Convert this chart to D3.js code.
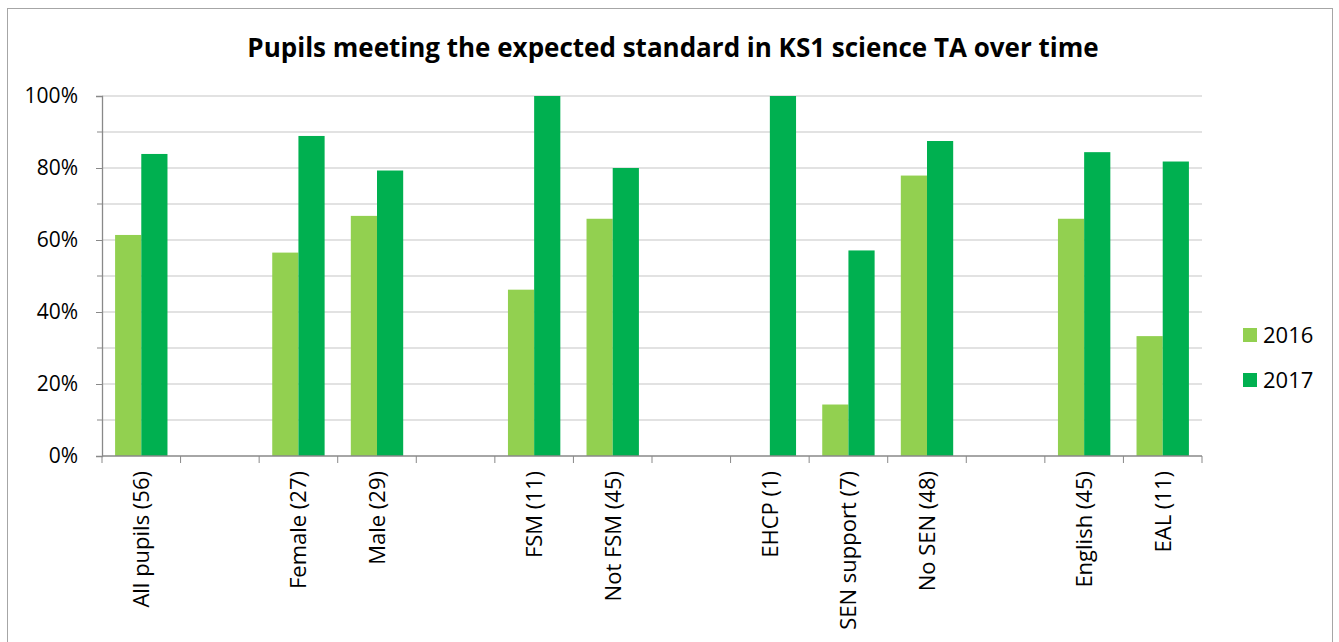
<!DOCTYPE html>
<html>
<head>
<meta charset="utf-8">
<script src="https://cdn.jsdelivr.net/npm/d3@7"></script>
<style>
  body { margin: 0; background: #fff; }
  svg { display: block; font-family: "Open Sans", "Noto Sans", sans-serif; }
</style>
</head>
<body>
<svg width="1339" height="642"></svg>
<script>
const categories = ["All pupils (56)", "", "Female (27)", "Male (29)", "", "FSM (11)", "Not FSM (45)", "",
  "EHCP (1)", "SEN support (7)", "No SEN (48)", "", "English (45)", "EAL (11)"];
const series = ["2016", "2017"];
const values2016 = [0.614, null, 0.565, 0.667, null, 0.462, 0.659, null, null, 0.143, 0.779, null, 0.659, 0.333];
const values2017 = [0.839, null, 0.889, 0.793, null, 1.0, 0.80, null, 1.0, 0.571, 0.875, null, 0.844, 0.818];
const yTicks = [0, 0.2, 0.4, 0.6, 0.8, 1.0];
const yMinor = [0.1, 0.3, 0.5, 0.7, 0.9];

const colors = {"2016": "#92d050", "2017": "#00b050"};
const axisColor = "#898989";
const gridColor = "#d9d9d9";

const svg = d3.select("svg");

// chart frame
svg.append("rect")
  .attr("x", 7.5).attr("y", 8.5)
  .attr("width", 1325).attr("height", 700)
  .attr("fill", "none")
  .attr("stroke", "#a6a6a6");

svg.append("text")
  .attr("x", 673).attr("y", 57)
  .attr("text-anchor", "middle")
  .attr("font-size", 26)
  .attr("font-weight", "bold")
  .attr("fill", "#000")
  .text("Pupils meeting the expected standard in KS1 science TA over time");

const x = d3.scaleBand()
  .domain(d3.range(categories.length))
  .range([102, 1202]);

const xSeries = d3.scaleBand()
  .domain(series)
  .range([0, x.bandwidth()])
  .paddingOuter(0.5);

const y = d3.scaleLinear()
  .domain([0, 1])
  .range([456, 96]);

// gridlines (major + minor)
svg.append("g")
  .selectAll("line")
  .data(yTicks.concat(yMinor).filter(d => d > 0))
  .join("line")
  .attr("x1", 102).attr("x2", 1202)
  .attr("y1", d => y(d)).attr("y2", d => y(d))
  .attr("stroke", gridColor)
  .attr("stroke-width", 1.3);

// bars
const rows = categories.map((c, i) => ({i, "2016": values2016[i], "2017": values2017[i]}));
const groups = svg.append("g")
  .selectAll("g")
  .data(rows)
  .join("g")
  .attr("transform", d => `translate(${x(d.i)},0)`);

groups.selectAll("rect")
  .data(d => series.filter(s => d[s] != null).map(s => ({s, v: d[s]})))
  .join("rect")
  .attr("x", d => xSeries(d.s))
  .attr("width", xSeries.bandwidth())
  .attr("y", d => y(d.v))
  .attr("height", d => y(0) - y(d.v))
  .attr("fill", d => colors[d.s]);

// y axis
const yAxis = svg.append("g")
  .attr("transform", "translate(102,0)")
  .call(d3.axisLeft(y).tickValues(yTicks).tickSize(6).tickPadding(18)
    .tickFormat(d3.format(".0%")));
yAxis.selectAll(".tick line").attr("stroke", axisColor);
yAxis.select(".domain").attr("stroke", axisColor).attr("stroke-width", 1.3);
yAxis.selectAll(".tick text")
  .attr("font-size", 21)
  .attr("fill", "#000")
  .attr("font-family", "\"Open Sans\", sans-serif");

svg.append("g")
  .selectAll("line")
  .data(yMinor)
  .join("line")
  .attr("x1", 97).attr("x2", 102)
  .attr("y1", d => y(d)).attr("y2", d => y(d))
  .attr("stroke", axisColor);

// x axis
const xg = svg.append("g");
xg.append("line")
  .attr("x1", 102).attr("x2", 1202)
  .attr("y1", y(0)).attr("y2", y(0))
  .attr("stroke", axisColor)
  .attr("stroke-width", 1.3);

xg.selectAll("line.tick")
  .data(d3.range(categories.length + 1))
  .join("line")
  .attr("class", "tick")
  .attr("x1", d => 102 + d * x.step()).attr("x2", d => 102 + d * x.step())
  .attr("y1", y(0)).attr("y2", y(0) + 7)
  .attr("stroke", axisColor);

xg.selectAll("text")
  .data(categories.map((c, i) => ({c, i})).filter(d => d.c))
  .join("text")
  .attr("transform", d => `translate(${x(d.i) + x.bandwidth() / 2 + 8},471) rotate(-90)`)
  .attr("text-anchor", "end")
  .attr("font-size", 22)
  .attr("fill", "#000")
  .text(d => d.c);

// legend
const legend = svg.append("g")
  .selectAll("g")
  .data(series)
  .join("g")
  .attr("transform", (d, i) => `translate(1243,${328 + i * 45})`);

legend.append("rect")
  .attr("width", 14).attr("height", 14)
  .attr("fill", d => colors[d]);

legend.append("text")
  .attr("x", 20).attr("y", 15)
  .attr("font-size", 22)
  .attr("fill", "#000")
  .text(d => d);
</script>
</body>
</html>
